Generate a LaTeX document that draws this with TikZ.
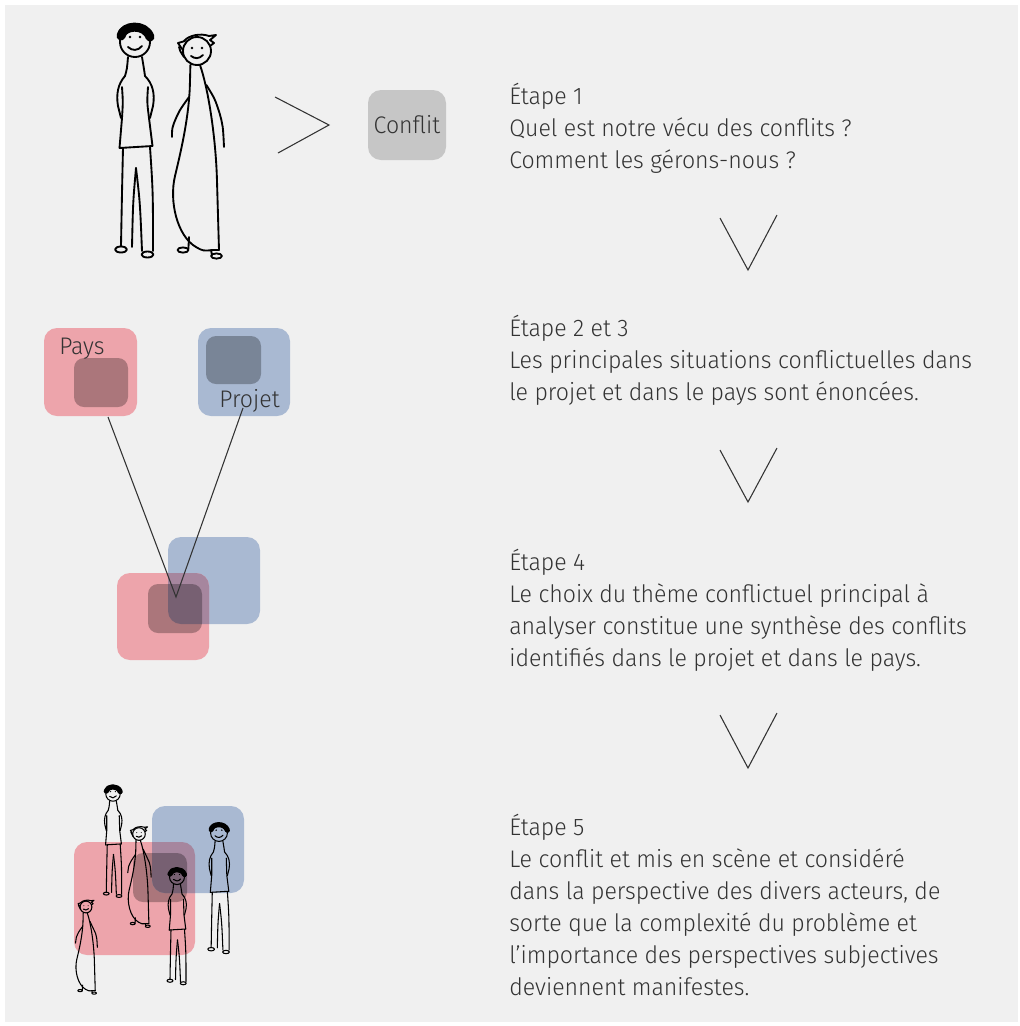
\documentclass[tikz,border=0pt]{standalone}
\usepackage{fontspec}
\setmainfont{Fira Sans}[UprightFont=* Light, FakeStretch=0.963]
\definecolor{bggray}{HTML}{F0F0F0}
\definecolor{textgray}{HTML}{333333}
\definecolor{pinkc}{HTML}{EDA4AB}
\definecolor{bluec}{HTML}{A9B9D2}
\definecolor{purplec}{HTML}{A6869E}
\definecolor{conflitc}{HTML}{C6C6C6}
\tikzset{
  box/.style={rectangle, rounded corners=9.75pt, inner sep=0pt, outer sep=0pt},
  inbox/.style={rectangle, rounded corners=7.5pt, inner sep=0pt, outer sep=0pt, fill=black, fill opacity=0.28},
  txt/.style={font=\fontsize{18}{24}\selectfont, text=textgray, align=left, inner sep=0pt, anchor=base west},
  chev/.style={draw=textgray, line width=0.8pt, line join=miter},
  fig/.style={line cap=round, line join=round},
  man/.pic={
    \draw (0,0) circle[radius=15];
    \draw[line width=2.2\pgflinewidth] (-14,-6) .. controls (-12,-17) and (10,-19) .. (15,-5);
    \fill (-5,-5) circle[radius=1.4];
    \fill (5,-5) circle[radius=1.4];
    \draw (-7,5) .. controls (-3,9) and (3,9) .. (7,4);
    \draw (-7,15) .. controls (-8,27) .. (-10,34) .. controls (-17,42) and (-19,52) .. (-17,64) .. controls (-16,70) .. (-14,76);
    \draw (-13,45) .. controls (-12,60) .. (-13,76) -- (-15.5,106);
    \draw (7,15) .. controls (9,27) .. (10,34) .. controls (18,42) and (20,52) .. (18,64) .. controls (17,70) .. (15,76);
    \draw (13,45) .. controls (12,60) .. (14,76) -- (17.5,104);
    \draw (-15.5,106) -- (17.5,104);
    \draw (-12,106) .. controls (-13,150) .. (-14,204);
    \draw (1,126) .. controls (-2,160) .. (-3,205);
    \draw (1,126) .. controls (5,160) .. (7,209);
    \draw (15,105) .. controls (18,150) .. (18,209);
    \draw (-14,207.5) ellipse [x radius=6, y radius=3];
    \draw (12.5,212.5) ellipse [x radius=6, y radius=3];
  },
  woman/.pic={
    \draw (0,0) circle[radius=14];
    \draw (-13,6) .. controls (-17,0) .. (-18,-4);
    \draw (-15,-2) -- (-19,-8) -- (-12,-10);
    \draw (-13,-10) .. controls (-8,-16) and (4,-18) .. (12,-15) -- (19,-16) -- (13,-11) -- (17,-8) -- (13,-5);
    \fill (-5,-3) circle[radius=1.3];
    \fill (5,-3) circle[radius=1.3];
    \draw (-6,5) .. controls (-2,8) and (2,8) .. (6,4);
    \draw (-6.6,14) .. controls (-7,30) .. (-7.3,39) .. controls (-9,70) and (-16,100) .. (-22,125) .. controls (-28,150) and (-20,185) .. (-1,196) .. controls (6,200) .. (16,199) -- (22,199);
    \draw (3,14) .. controls (12,40) and (19,90) .. (20,130) -- (22,199);
    \draw (9.4,34) .. controls (18,48) .. (22.7,62.6) .. controls (26,75) .. (27,96);
    \draw (-8,46) .. controls (-18,60) .. (-23,72) .. controls (-25,78) .. (-25,86);
    \draw (-8,186) -- (-8.6,198);
    \draw (-14,199) ellipse [x radius=5.5, y radius=2.6];
    \draw (14,199) -- (15,204);
    \draw (19.5,205) ellipse [x radius=5.5, y radius=2.6];
  }
}
\begin{document}
\begin{tikzpicture}[x=0.75pt,y=-0.75pt]
\useasboundingbox (0,0) rectangle (1020,1026);
\fill[white] (0,0) rectangle (1020,1026);
\fill[bggray] (5,5) rectangle (1018,1022);

% ---- step 1 ----
\pic[fig, line width=1.4pt] at (135,42) {man};
\pic[fig, line width=1.4pt] at (197,51) {woman};
\coordinate (gtA) at (275,97);
\coordinate (gtB) at (329,125);
\coordinate (gtC) at (278,153);
\draw[chev] (gtA) -- (gtB) -- (gtC);
\node[box, fill=conflitc, minimum width=58.5pt, minimum height=52.5pt, text=textgray, font=\fontsize{18}{24}\selectfont] (conflit) at (407,125) {Conflit};

% ---- step 2 and 3 ----
\node[box, fill=pinkc, minimum width=69.75pt, minimum height=66pt] (pays) at (90.5,372) {};
\node[inbox, minimum width=40.5pt, minimum height=36.75pt] (paysin) at (101,382.5) {};
\node[txt] (paystxt) at (59,354) {Pays};
\node[box, fill=bluec, minimum width=69pt, minimum height=66pt] (projet) at (244,372) {};
\node[inbox, minimum width=41.25pt, minimum height=36pt] (projetin) at (233.5,360) {};
\node[txt] (projettxt) at (219,407) {Projet};

% ---- step 4 ----
\node[box, fill=bluec, minimum width=69pt, minimum height=65.25pt] (blueB) at (214,580.5) {};
\node[box, fill=pinkc, minimum width=69pt, minimum height=65.25pt] (pinkB) at (163,616.5) {};
\begin{scope}
  \clip[rounded corners=9.75pt] (blueB.south west) rectangle (blueB.north east);
  \fill[purplec, rounded corners=9.75pt] (pinkB.south west) rectangle (pinkB.north east);
\end{scope}
\node[inbox, minimum width=40.5pt, minimum height=36.75pt] (darkB) at (175,608.5) {};

\coordinate (paysfoot) at (108,417);
\coordinate (projetfoot) at (243,408);
\coordinate (vtx) at (176,597);
\draw[textgray, line width=0.8pt] (paysfoot) -- (vtx) -- (projetfoot);

% ---- step 5 ----
\node[box, fill=pinkc, minimum width=90.75pt, minimum height=84.75pt] (pinkC) at (134.5,898.5) {};
\node[box, fill=bluec, minimum width=69pt, minimum height=65.25pt] (blueC) at (198,849.5) {};
\begin{scope}
  \clip[rounded corners=9.75pt] (blueC.south west) rectangle (blueC.north east);
  \fill[purplec, rounded corners=9.75pt] (pinkC.south west) rectangle (pinkC.north east);
\end{scope}
\node[inbox, minimum width=40.5pt, minimum height=36.75pt] (darkC) at (160,877.5) {};

\pic[fig, line width=0.8pt, scale=0.48] at (113,794) {man};
\pic[fig, line width=0.8pt, scale=0.45] at (139,834) {woman};
\pic[fig, line width=0.8pt, scale=0.42] at (86,907) {woman};
\pic[fig, line width=0.8pt, scale=0.5] at (177,877) {man};
\pic[fig, line width=0.8pt, scale=0.56] at (219,833) {man};

% ---- chevrons ----
\coordinate (vA1) at (720,218); \coordinate (vA2) at (748,270); \coordinate (vA3) at (777,215);
\draw[chev] (vA1) -- (vA2) -- (vA3);
\coordinate (vB1) at (720,450); \coordinate (vB2) at (748,502); \coordinate (vB3) at (777,448);
\draw[chev] (vB1) -- (vB2) -- (vB3);
\coordinate (vC1) at (720,715); \coordinate (vC2) at (748,768); \coordinate (vC3) at (777,713);
\draw[chev] (vC1) -- (vC2) -- (vC3);

% ---- texts (anchored at the baseline of the last line) ----
\node[txt] (e1) at (509,168) {Étape 1\\Quel est notre vécu des conflits ?\\Comment les gérons-nous ?};
\node[txt] (e2) at (509,400) {Étape 2 et 3\\Les principales situations conflictuelles dans\\le projet et dans le pays sont énoncées.};
\node[txt] (e4) at (509,666) {Étape 4\\Le choix du thème conflictuel principal à\\analyser constitue une synthèse des conflits\\identifiés dans le projet et dans le pays.};
\node[txt] (e5) at (509,995) {Étape 5\\Le conflit et mis en scène et considéré\\dans la perspective des divers acteurs, de\\sorte que la complexité du problème et\\l’importance des perspectives subjectives\\deviennent manifestes.};
\end{tikzpicture}
\end{document}
